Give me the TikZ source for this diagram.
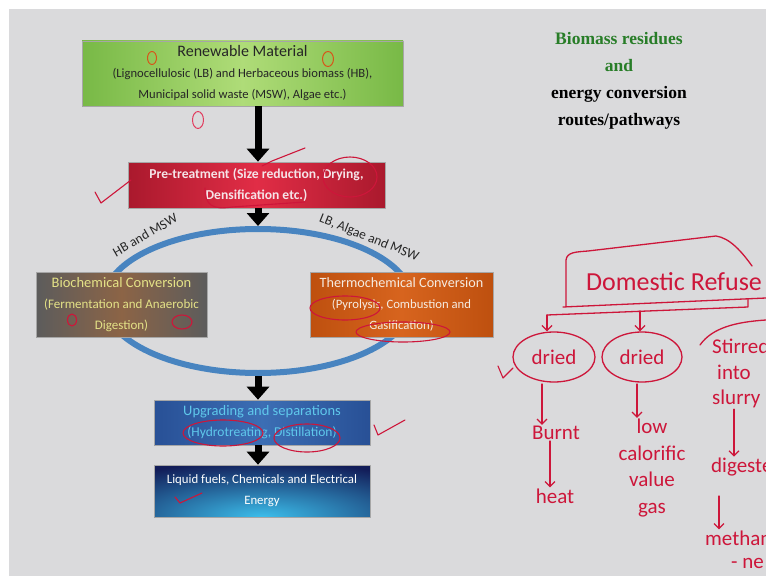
\documentclass[tikz,border=0pt]{standalone}
\usepackage{fontspec}
\setmainfont{Carlito}
\newfontfamily\titlefont{Liberation Serif}
\usetikzlibrary{arrows.meta,shapes.geometric}
\definecolor{slidebg}{RGB}{218,218,220}
\definecolor{ringblue}{RGB}{72,132,192}
\definecolor{renewedge}{RGB}{120,185,70}
\definecolor{renewmid}{RGB}{175,220,120}
\definecolor{preedge}{RGB}{170,25,45}
\definecolor{premid}{RGB}{225,45,70}
\definecolor{pretext}{RGB}{245,228,232}
\definecolor{bioedge}{RGB}{92,92,92}
\definecolor{biomid}{RGB}{140,100,70}
\definecolor{biotext}{RGB}{228,226,135}
\definecolor{thermoedge}{RGB}{190,80,15}
\definecolor{thermomid}{RGB}{215,100,30}
\definecolor{thermotext}{RGB}{245,235,225}
\definecolor{upedge}{RGB}{40,80,150}
\definecolor{upmid}{RGB}{60,110,180}
\definecolor{uptext}{RGB}{95,200,235}
\definecolor{fuelnavy}{RGB}{18,28,88}
\definecolor{fuelglow}{RGB}{60,190,235}
\definecolor{titlegreen}{RGB}{40,125,40}
\definecolor{handred}{RGB}{205,22,58}
\definecolor{handorange}{RGB}{215,85,25}
\definecolor{handpink}{RGB}{225,60,95}
\begin{document}
\begin{tikzpicture}[x=1pt,y=-1pt,line join=round,line cap=round,
  box/.style={draw=gray!70,line width=0.6pt,inner sep=0pt,align=center},
  bigarrow/.style={line width=7pt,line cap=butt,-{Triangle[width=22pt,length=13pt]}},
  arclabel/.style={font=\fontsize{13.5}{13.5}\selectfont,text=black!85,inner sep=0pt},
  hand/.style={text=handred,inner sep=1pt,font=\fontsize{21}{21}\selectfont},
  handline/.style={draw=handred,line width=1.3pt},
  handarrow/.style={handline,-{Straight Barb[length=5pt,width=10pt]}},
  scribble/.style={draw=handred,line width=1.1pt}]
\useasboundingbox (0,0) rectangle (766,578);
\clip (0,0) rectangle (766,578);
\fill[white] (0,0) rectangle (766,578);
\fill[slidebg] (9,9) rectangle (766,576);
% blue ring behind the two conversion boxes
\node[ellipse,draw=ringblue,line width=6pt,minimum width=308pt,minimum height=144pt,inner sep=0pt] (ring) at (258,301) {};
\node[arclabel,rotate=30] (hbmsw) at (145,235) {HB and MSW};
\node[arclabel,rotate=-22] (lbmsw) at (369,238) {LB, Algae and MSW};
% boxes
\node[box,minimum width=321pt,minimum height=65pt,left color=renewedge,right color=renewedge,middle color=renewmid,
  text=black!85,font=\fontsize{12.6}{21}\selectfont] (renew) at (242.5,73.5)
  {{\fontsize{16}{21}\selectfont Renewable Material}\\(Lignocellulosic (LB) and Herbaceous biomass (HB),\\Municipal solid waste (MSW), Algae etc.)};
\node[box,minimum width=257pt,minimum height=46pt,left color=preedge,right color=preedge,middle color=premid,
  text=pretext,font=\bfseries\fontsize{13.6}{21}\selectfont] (pretreat) at (256.5,185)
  {Pre-treatment (Size reduction, Drying,\\Densification etc.)};
\node[box,minimum width=171pt,minimum height=65pt,left color=bioedge,right color=bioedge,middle color=biomid,
  text=biotext,font=\fontsize{13}{21}\selectfont] (biochem) at (121.5,304.5)
  {{\fontsize{14.5}{21}\selectfont Biochemical Conversion}\\(Fermentation and Anaerobic\\Digestion)};
\node[box,minimum width=183pt,minimum height=65pt,left color=thermoedge,right color=thermoedge,middle color=thermomid,
  text=thermotext,font=\fontsize{12.7}{21}\selectfont] (thermo) at (401.5,304.5)
  {{\fontsize{14.2}{21}\selectfont Thermochemical Conversion}\\(Pyrolysis, Combustion and\\Gasification)};
\node[box,minimum width=216pt,minimum height=45pt,left color=upedge,right color=upedge,middle color=upmid,
  text=uptext,font=\fontsize{13.5}{21}\selectfont] (upgrade) at (262,422.5)
  {{\fontsize{14.5}{21}\selectfont Upgrading and separations}\\(Hydrotreating, Distillation)};
\node[box,minimum width=216pt,minimum height=52pt,fill=fuelnavy,text=white,font=\fontsize{12.8}{21}\selectfont,
  path picture={\shade[inner color=fuelglow,outer color=fuelnavy] (path picture bounding box.south) ellipse (200pt and 56pt);}]
  (fuels) at (262,491) {Liquid fuels, Chemicals and Electrical\\Energy};
% thick arrows
\draw[bigarrow] (renew.south -| ring.north) -- (pretreat.north -| ring.north);
\draw[bigarrow] (pretreat.south -| ring.north) -- (ring.north);
\draw[bigarrow] (ring.south) -- (upgrade.north -| ring.south);
\draw[bigarrow] (upgrade.south -| ring.south) -- (fuels.north -| ring.south);
% heading
\node[font=\titlefont\bfseries\fontsize{17.5}{27}\selectfont,align=center] (heading) at (619,81)
  {\textcolor{titlegreen}{Biomass residues}\\\textcolor{titlegreen}{and}\\energy conversion\\routes/pathways};
% marks on the slide
\draw[handorange,line width=1pt] (152,58) ellipse (4.5pt and 6.5pt) (328,59) ellipse (5.5pt and 7.5pt);
\draw[handpink,line width=1pt] (198,120) ellipse (5.5pt and 8.5pt);
\draw[scribble] (95,192) -- (101,203) -- (131,180);
\draw[scribble] (262,166) -- (272,161) -- (305,148);
\draw[scribble] (350,177) ellipse (27pt and 20pt);
\draw[scribble] (205,188) .. controls (205,205) and (212,210) .. (232,207) -- (305,202);
\draw[scribble] (72,320) ellipse (4.5pt and 6pt) (182,322) ellipse (10pt and 7pt);
\draw[scribble] (345,308) ellipse (35pt and 12pt) (403,332) ellipse (47pt and 10pt);
\draw[scribble] (223,433) ellipse (40pt and 13pt) (307,438) ellipse (33pt and 14pt);
\draw[scribble] (374,425) -- (378,435) -- (405,420);
\draw[scribble] (175,497) -- (180,503) -- (202,493);
% handwritten tree
\node[hand,anchor=west,font=\fontsize{26}{26}\selectfont] (refuse) at (585,282) {Domestic Refuse};
\draw[handline] (566,306) -- (566,260) .. controls (567,252) and (576,252) .. (588,251) -- (716,236)
  .. controls (730,238) and (742,252) .. (752,266);
\draw[handline] (563,307) -- (766,298);
\coordinate (forkA) at (547,315);
\coordinate (forkB) at (640,311);
\coordinate (forkC) at (748,307);
\draw[handline] (forkA) -- (forkC) -- ++(0,-8);
\node[hand,ellipse,draw=handred,line width=1.3pt,minimum width=82pt,minimum height=50pt] (dryA) at (554,357) {dried};
\node[hand,ellipse,draw=handred,line width=1.3pt,minimum width=80pt,minimum height=50pt] (dryB) at (642,357) {dried};
\draw[handarrow] (forkA) -- (forkA |- dryA.north);
\draw[handarrow] (forkB) -- (forkB |- dryB.north);
\draw[handline] (700,345) .. controls (712,328) and (735,322) .. (766,320);
\draw[scribble] (498,366) -- (503,378) -- (513,368);
\node[hand,anchor=west] (stir) at (711,346) {Stirred};
\node[hand,anchor=west] (into) at (716,372) {into};
\node[hand,anchor=west] (slurry) at (711,399) {slurry};
\node[hand] (burnt) at (556,433) {Burnt};
\node[hand] (heat) at (555,496) {heat};
\node[hand,align=center,font=\fontsize{21}{26.5}\selectfont] (lowgas) at (652,468) {low\\calorific\\value\\gas};
\node[hand,anchor=west] (digest) at (710,467) {digested};
\node[hand,anchor=west] (methane) at (704,538) {methane};
\node[hand,anchor=west] (nextline) at (730,563) {- ne};
\draw[handarrow] (542,384) -- (burnt.north -| 542,0);
\draw[handarrow] (burnt.south -| 550,0) -- (heat.north -| 550,0);
\draw[handarrow] (637,384) -- (lowgas.north -| 637,0);
\draw[handarrow] (slurry.south -| 734,0) -- (digest.north -| 734,0);
\draw[handarrow] (719,496) -- (methane.north -| 719,0);
\end{tikzpicture}
\end{document}
